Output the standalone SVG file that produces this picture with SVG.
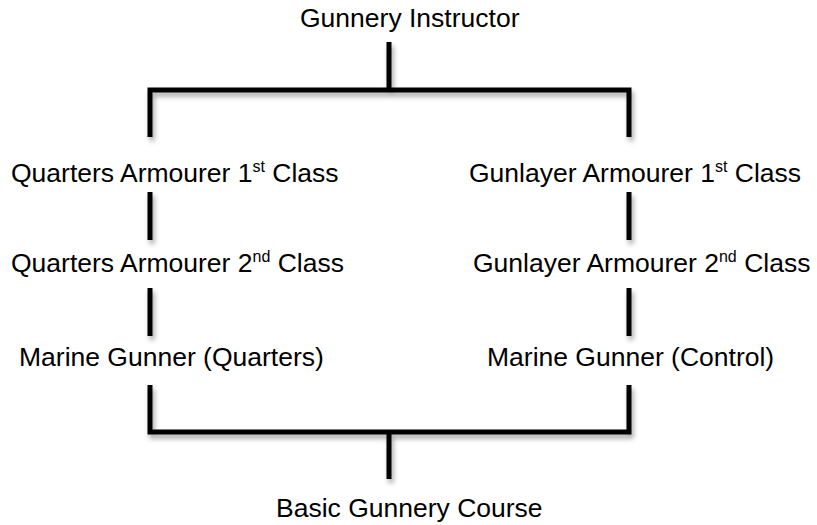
<svg xmlns="http://www.w3.org/2000/svg" width="817" height="525" viewBox="0 0 817 525">
<defs>
<filter id="sh" x="-20%" y="-20%" width="140%" height="160%">
<feDropShadow dx="2" dy="4" stdDeviation="2.5" flood-color="#000" flood-opacity="0.35"/>
</filter>
</defs>
<style>
text{font-family:"Liberation Sans",Arial,Helvetica,sans-serif;font-size:26.5px;fill:#000}
.sup{font-size:16px}
.ln{stroke:#000;stroke-width:5;fill:none;stroke-linecap:butt;stroke-linejoin:miter}
</style>
<rect width="817" height="525" fill="#fff"/>
<g id="connectors" filter="url(#sh)">
<path class="ln" d="M389,42 V90"/>
<path class="ln" d="M150,137 V90 H629 V137"/>
<path class="ln" d="M150,192 V240"/>
<path class="ln" d="M629,192 V240"/>
<path class="ln" d="M150,288 V336"/>
<path class="ln" d="M629,288 V336"/>
<path class="ln" d="M150,385 V432 H629 V385"/>
<path class="ln" d="M389,432 V479"/>
</g>
<g id="gunnery-instructor"><text x="300" y="27">Gunnery Instructor</text></g>
<g id="quarters-armourer-1"><text x="11" y="182">Quarters Armourer 1<tspan class="sup" dy="-10">st</tspan><tspan dy="10"> Class</tspan></text></g>
<g id="gunlayer-armourer-1"><text x="469" y="182">Gunlayer Armourer 1<tspan class="sup" dy="-10">st</tspan><tspan dy="10"> Class</tspan></text></g>
<g id="quarters-armourer-2"><text x="11" y="272">Quarters Armourer 2<tspan class="sup" dy="-10">nd</tspan><tspan dy="10"> Class</tspan></text></g>
<g id="gunlayer-armourer-2"><text x="473" y="272">Gunlayer Armourer 2<tspan class="sup" dy="-10">nd</tspan><tspan dy="10"> Class</tspan></text></g>
<g id="marine-gunner-quarters"><text x="19" y="366">Marine Gunner (Quarters)</text></g>
<g id="marine-gunner-control"><text x="487" y="366">Marine Gunner (Control)</text></g>
<g id="basic-gunnery-course"><text x="276" y="517">Basic Gunnery Course</text></g>
</svg>
